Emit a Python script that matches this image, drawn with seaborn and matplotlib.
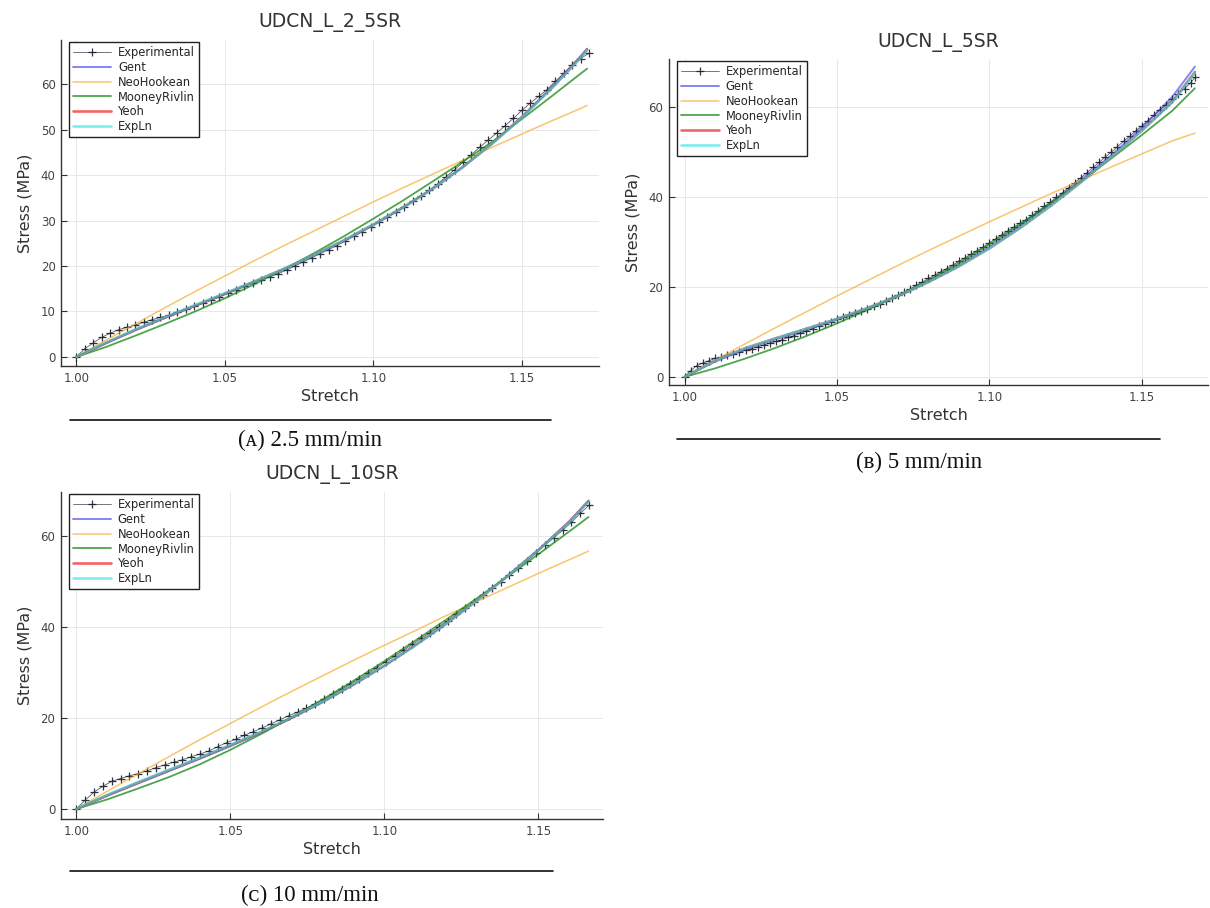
import numpy as np
import pandas as pd
import matplotlib
matplotlib.use("Agg")
import matplotlib.pyplot as plt
import seaborn as sns
from matplotlib.lines import Line2D

sns.set_theme(style="white")
plt.rcParams['font.family'] = ['DejaVu Sans']

# ---------------- data ----------------
titles = ["UDCN_L_2_5SR", "UDCN_L_5SR", "UDCN_L_10SR"]
captions = ["(ᴀ) 2.5 mm/min", "(ʙ) 5 mm/min", "(ᴄ) 10 mm/min"]
model_names = ["Gent", "NeoHookean", "MooneyRivlin", "Yeoh", "ExpLn"]

# Panel A experimental
exp_a_stretch = [1.0000, 1.0028, 1.0057, 1.0085, 1.0113, 1.0142, 1.0170, 1.0198, 1.0226, 1.0255,
                 1.0283, 1.0311, 1.0340, 1.0368, 1.0396, 1.0425, 1.0453, 1.0481, 1.0509, 1.0538,
                 1.0566, 1.0594, 1.0623, 1.0651, 1.0679, 1.0708, 1.0736, 1.0764, 1.0792, 1.0821,
                 1.0849, 1.0877, 1.0906, 1.0934, 1.0962, 1.0991, 1.1019, 1.1047, 1.1075, 1.1104,
                 1.1132, 1.1160, 1.1189, 1.1217, 1.1245, 1.1274, 1.1302, 1.1330, 1.1358, 1.1387,
                 1.1415, 1.1443, 1.1472, 1.1500, 1.1528, 1.1557, 1.1585, 1.1613, 1.1642, 1.1670,
                 1.1698, 1.1726]
exp_a_stress = [0.0, 1.8, 3.1, 4.3, 5.2, 6.0, 6.5, 7.0, 7.6, 8.2,
                8.7, 9.2, 9.9, 10.5, 11.1, 11.8, 12.5, 13.2, 14.0, 14.7,
                15.5, 16.2, 17.0, 17.6, 18.3, 19.1, 20.0, 20.9, 21.8, 22.7,
                23.6, 24.5, 25.5, 26.5, 27.5, 28.6, 29.6, 30.7, 31.8, 33.0,
                34.2, 35.4, 36.7, 38.1, 39.6, 41.2, 42.8, 44.5, 46.1, 47.7,
                49.2, 50.8, 52.5, 54.2, 55.8, 57.3, 58.8, 60.6, 62.4, 64.2,
                65.6, 66.8]

# Panel B experimental
exp_b_stretch = [1.000, 1.002, 1.004, 1.006, 1.008, 1.010, 1.012, 1.014, 1.016, 1.018,
                 1.020, 1.022, 1.024, 1.026, 1.028, 1.030, 1.032, 1.034, 1.036, 1.038,
                 1.040, 1.042, 1.044, 1.046, 1.048, 1.050, 1.052, 1.054, 1.056, 1.058,
                 1.060, 1.062, 1.064, 1.066, 1.068, 1.070, 1.072, 1.074, 1.076, 1.078,
                 1.080, 1.082, 1.084, 1.086, 1.088, 1.090, 1.092, 1.094, 1.096, 1.098,
                 1.100, 1.102, 1.104, 1.106, 1.108, 1.110, 1.112, 1.114, 1.116, 1.118,
                 1.120, 1.122, 1.124, 1.126, 1.128, 1.130, 1.132, 1.134, 1.136, 1.138,
                 1.140, 1.142, 1.144, 1.146, 1.148, 1.150, 1.152, 1.154, 1.156, 1.158,
                 1.160, 1.162, 1.164, 1.166, 1.1674]
exp_b_stress = [0.0, 1.4, 2.5, 3.1, 3.6, 4.1, 4.4, 4.8, 5.1, 5.5,
                5.9, 6.3, 6.7, 7.1, 7.5, 7.9, 8.3, 8.8, 9.2, 9.7,
                10.2, 10.7, 11.3, 11.8, 12.3, 12.9, 13.3, 13.8, 14.2, 14.6,
                15.1, 15.7, 16.3, 16.9, 17.5, 18.2, 18.9, 19.6, 20.4, 21.1,
                21.9, 22.6, 23.4, 24.1, 24.9, 25.7, 26.5, 27.3, 28.1, 28.9,
                29.8, 30.7, 31.6, 32.5, 33.3, 34.2, 35.0, 35.9, 36.9, 37.9,
                38.9, 39.9, 41.0, 42.1, 43.2, 44.3, 45.4, 46.6, 47.7, 48.9,
                50.0, 51.2, 52.4, 53.5, 54.7, 55.8, 57.0, 58.2, 59.4, 60.5,
                61.7, 62.9, 64.1, 65.4, 66.6]

# Panel C experimental
exp_c_stretch = [1.0000, 1.0029, 1.0057, 1.0086, 1.0115, 1.0144, 1.0172, 1.0201, 1.0230, 1.0258,
                 1.0287, 1.0316, 1.0344, 1.0373, 1.0402, 1.0431, 1.0459, 1.0488, 1.0517, 1.0545,
                 1.0574, 1.0603, 1.0631, 1.0660, 1.0689, 1.0718, 1.0746, 1.0775, 1.0804, 1.0832,
                 1.0861, 1.0890, 1.0918, 1.0947, 1.0976, 1.1005, 1.1033, 1.1062, 1.1091, 1.1119,
                 1.1148, 1.1177, 1.1206, 1.1234, 1.1263, 1.1292, 1.1320, 1.1349, 1.1378, 1.1406,
                 1.1435, 1.1464, 1.1493, 1.1521, 1.1550, 1.1579, 1.1607, 1.1636, 1.1665]
exp_c_stress = [0.0, 2.0, 3.7, 5.0, 6.1, 6.7, 7.3, 7.8, 8.4, 9.1,
                9.7, 10.3, 10.8, 11.5, 12.1, 12.8, 13.7, 14.6, 15.3, 16.2,
                17.0, 17.8, 18.7, 19.6, 20.5, 21.3, 22.2, 23.1, 24.1, 25.2,
                26.3, 27.5, 28.6, 29.8, 31.1, 32.4, 33.6, 34.9, 36.2, 37.5,
                38.8, 40.1, 41.4, 42.8, 44.1, 45.6, 47.1, 48.6, 50.0, 51.5,
                53.0, 54.6, 56.3, 58.0, 59.6, 61.3, 63.0, 65.0, 66.8]

# Fitted model curves
fit_a_stretch = [1.00, 1.01, 1.02, 1.03, 1.04, 1.05, 1.06, 1.07, 1.08, 1.09,
                 1.10, 1.11, 1.12, 1.13, 1.14, 1.15, 1.16, 1.17, 1.172]
gent_a = [0, 3.0, 5.9, 8.6, 11.2, 13.8, 16.5, 19.3, 22.3, 25.5, 29.0, 32.8, 37.0, 41.7, 47.0, 52.8, 59.3, 66.3, 67.8]
neo_a = [0, 3.7, 7.3, 10.9, 14.4, 17.8, 21.2, 24.5, 27.7, 30.9, 34.1, 37.2, 40.2, 43.2, 46.1, 49.0, 51.9, 54.7, 55.3]
mooney_a = [0, 2.2, 4.7, 7.3, 10.0, 12.9, 16.0, 19.3, 22.8, 26.5, 30.4, 34.4, 38.6, 42.9, 47.3, 52.3, 57.3, 62.4, 63.4]
yeoh_a = [0, 3.1, 6.0, 8.7, 11.3, 13.9, 16.6, 19.4, 22.4, 25.6, 29.1, 32.9, 37.0, 41.7, 46.9, 52.7, 59.1, 66.0, 67.6]
expln_a = [0, 3.2, 6.1, 8.8, 11.4, 14.0, 16.6, 19.4, 22.4, 25.6, 29.1, 32.9, 37.0, 41.7, 46.9, 52.6, 59.0, 65.9, 67.5]

fit_b_stretch = [1.00, 1.01, 1.02, 1.03, 1.04, 1.05, 1.06, 1.07, 1.08, 1.09,
                 1.10, 1.11, 1.12, 1.13, 1.14, 1.15, 1.16, 1.1674]
gent_b = [0, 3.4, 6.2, 8.4, 10.5, 12.7, 15.2, 18.0, 21.2, 24.8, 28.9, 33.5, 38.5, 43.8, 49.3, 55.4, 62.3, 69.0]
neo_b = [0, 3.7, 7.4, 11.0, 14.5, 18.0, 21.4, 24.8, 28.1, 31.3, 34.5, 37.6, 40.7, 43.7, 46.7, 49.6, 52.5, 54.2]
mooney_b = [0, 1.9, 4.1, 6.5, 9.1, 11.9, 14.9, 18.0, 21.5, 25.3, 29.5, 33.9, 38.6, 43.5, 48.6, 53.8, 59.2, 64.2]
yeoh_b = [0, 3.6, 6.4, 8.6, 10.7, 12.9, 15.3, 18.0, 21.1, 24.6, 28.6, 33.1, 38.0, 43.3, 48.9, 54.8, 61.2, 67.8]
expln_b = [0, 3.6, 6.4, 8.6, 10.7, 12.9, 15.3, 18.0, 21.1, 24.6, 28.6, 33.1, 38.0, 43.3, 48.9, 54.8, 61.1, 67.6]

fit_c_stretch = [1.00, 1.01, 1.02, 1.03, 1.04, 1.05, 1.06, 1.07, 1.08, 1.09,
                 1.10, 1.11, 1.12, 1.13, 1.14, 1.15, 1.16, 1.1663]
gent_c = [0, 2.9, 5.6, 8.3, 11.0, 13.8, 16.8, 20.0, 23.5, 27.3, 31.5, 36.0, 40.8, 45.9, 51.3, 57.0, 63.2, 67.8]
neo_c = [0, 3.9, 7.7, 11.5, 15.2, 18.8, 22.4, 25.9, 29.3, 32.7, 36.0, 39.2, 42.5, 45.6, 48.7, 51.8, 54.8, 56.7]
mooney_c = [0, 2.1, 4.5, 7.0, 9.8, 13.0, 16.5, 20.2, 24.1, 28.2, 32.5, 37.0, 41.6, 46.3, 51.1, 56.0, 61.0, 64.2]
yeoh_c = [0, 3.0, 5.8, 8.5, 11.2, 14.0, 16.9, 20.1, 23.6, 27.4, 31.5, 36.0, 40.7, 45.8, 51.2, 56.9, 63.1, 67.7]
expln_c = [0, 3.1, 5.9, 8.6, 11.3, 14.1, 17.0, 20.2, 23.6, 27.4, 31.5, 35.9, 40.7, 45.8, 51.2, 56.9, 63.0, 67.6]

y_ticks_a = [0, 10, 20, 30, 40, 50, 60]
y_ticks_bc = [0, 20, 40, 60]
x_ticks = [1.00, 1.05, 1.10, 1.15]
x_tick_labels = ["1.00", "1.05", "1.10", "1.15"]

# ---------------- styling ----------------
model_styles = {
    "Gent": dict(color="#2222ee", alpha=0.55, lw=1.4),
    "NeoHookean": dict(color="#f5a623", alpha=0.65, lw=1.1),
    "MooneyRivlin": dict(color="#118811", alpha=0.75, lw=1.3),
    "Yeoh": dict(color="#ee2222", alpha=0.7, lw=1.9),
    "ExpLn": dict(color="#22e6e6", alpha=0.6, lw=1.9),
}

panels = [
    dict(rect=[61.3, 40, 599, 366], exp=(exp_a_stretch, exp_a_stress), fx=fit_a_stretch,
         fits=[gent_a, neo_a, mooney_a, yeoh_a, expln_a], xlim=(0.9949, 1.176), ylim=(-2.0, 69.7),
         yticks=y_ticks_a, rule=(70, 551, 420), cap=(310, 440)),
    dict(rect=[669, 59, 1208, 385], exp=(exp_b_stretch, exp_b_stress), fx=fit_b_stretch,
         fits=[gent_b, neo_b, mooney_b, yeoh_b, expln_b], xlim=(0.9949, 1.1717), ylim=(-1.8, 70.7),
         yticks=y_ticks_bc, rule=(677, 1160, 439), cap=(919, 462)),
    dict(rect=[61, 492, 603, 819], exp=(exp_c_stretch, exp_c_stress), fx=fit_c_stretch,
         fits=[gent_c, neo_c, mooney_c, yeoh_c, expln_c], xlim=(0.995, 1.171), ylim=(-2.2, 69.7),
         yticks=y_ticks_bc, rule=(70, 553, 871), cap=(310, 895)),
]

W, H = 1210, 908
fig = plt.figure(figsize=(W / 100, H / 100), dpi=100)
fig.patch.set_facecolor("white")

for i, p in enumerate(panels):
    l, t, r, b = p["rect"]
    ax = fig.add_axes([l / W, 1 - b / H, (r - l) / W, (b - t) / H])
    ax.set_facecolor("white")
    ex, ey = p["exp"]
    sns.lineplot(x=ex, y=ey, ax=ax, color="#2a2a3a", lw=0.5, alpha=0.9,
                 marker="+", markersize=6, markeredgewidth=0.9, markeredgecolor="#1a1a2a",
                 label="Experimental", sort=False, zorder=2)
    for name, ys in zip(model_names, p["fits"]):
        st = model_styles[name]
        sns.lineplot(x=p["fx"], y=ys, ax=ax, color=st["color"], alpha=st["alpha"],
                     lw=st["lw"], label=name, sort=False, zorder=3)
    ax.set_xlim(*p["xlim"])
    ax.set_ylim(*p["ylim"])
    ax.set_xticks(x_ticks)
    ax.set_xticklabels(x_tick_labels)
    ax.set_yticks(p["yticks"])
    ax.grid(True, color="#e8e8e8", lw=0.7)
    for s in ["top", "right"]:
        ax.spines[s].set_visible(False)
    for s in ["left", "bottom"]:
        ax.spines[s].set_color("#333333")
        ax.spines[s].set_linewidth(1.0)
    ax.tick_params(direction="in", length=4, width=0.8, colors="#333333",
                   labelsize=8.5, labelcolor="#444444", left=True, bottom=True, pad=4)
    ax.set_xlabel("Stretch", fontsize=11.5, color="#333333", labelpad=3)
    ax.set_ylabel("Stress (MPa)", fontsize=11.5, color="#333333", labelpad=6)
    ax.set_title(titles[i], fontsize=13.5, color="#333333", pad=9)
    leg = ax.legend(loc="upper left", bbox_to_anchor=(0.01, 1.0), fontsize=8.3, frameon=True,
                    fancybox=False, edgecolor="#222222", framealpha=1.0, handlelength=3.3,
                    labelspacing=0.15, borderpad=0.35, handletextpad=0.6, borderaxespad=0.2)
    leg.get_frame().set_linewidth(1.0)

    x0, x1, yr = p["rule"]
    fig.add_artist(Line2D([x0 / W, x1 / W], [1 - yr / H, 1 - yr / H], color="#111111", lw=1.2))
    cx, cy = p["cap"]
    fig.text(cx / W, 1 - cy / H, captions[i], ha="center", va="center", fontsize=16.5,
             family=["Liberation Serif", "DejaVu Serif"], color="#111111")

fig.savefig("out.png", dpi=100, facecolor="white")
